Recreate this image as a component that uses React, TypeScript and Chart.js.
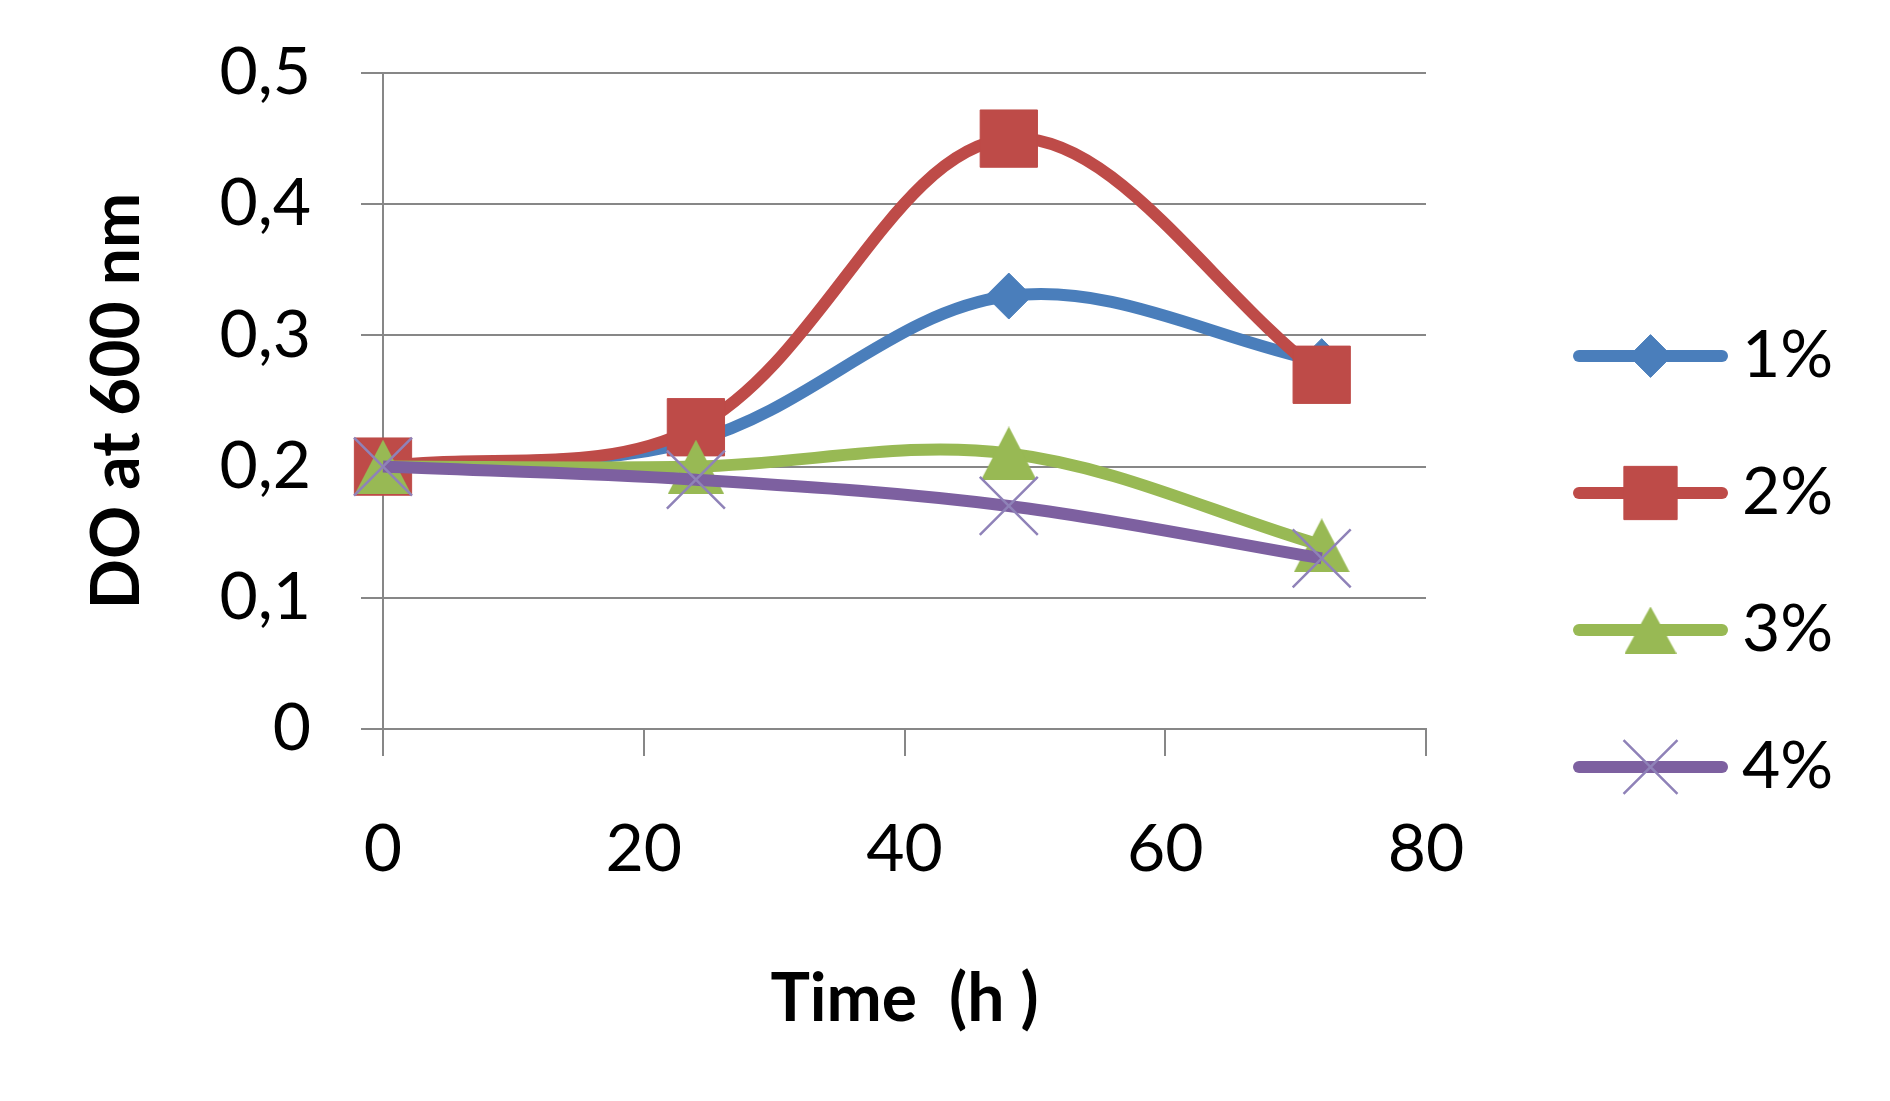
import React, { useEffect, useRef } from 'react';
import { Chart, registerables } from 'chart.js';
import { drawPoint } from 'chart.js/helpers';

Chart.register(...registerables);

// Optical density readings (DO at 600 nm) over incubation time
const hours = [0, 24, 48, 72];
const od1 = [0.2, 0.22, 0.33, 0.28];
const od2 = [0.2, 0.23, 0.45, 0.27];
const od3 = [0.2, 0.2, 0.21, 0.14];
const od4 = [0.2, 0.19, 0.17, 0.13];
const seriesLabels = ['1%', '2%', '3%', '4%'];

const xTicks = [0, 20, 40, 60, 80];
const yTicks = [0, 0.1, 0.2, 0.3, 0.4, 0.5];
const yTickLabels = ['0', '0,1', '0,2', '0,3', '0,4', '0,5'];

const FONT = 'Lato, "Open Sans", sans-serif';
const GRID = '#878787';

// Triangle marker centred on its bounding box
function triangleMarker(w: number, h: number, color: string): HTMLCanvasElement {
  const c = document.createElement('canvas');
  c.width = w;
  c.height = h;
  const g = c.getContext('2d')!;
  g.fillStyle = color;
  g.beginPath();
  g.moveTo(w / 2, 0);
  g.lineTo(w, h);
  g.lineTo(0, h);
  g.closePath();
  g.fill();
  return c;
}

const seriesStyles = [
  { color: '#4A7EBB', marker: 'rectRot', radius: 23, edge: '#4A7EBB', edgeWidth: 1 },
  { color: '#BE4B48', marker: 'rect', radius: 40.5, edge: '#BE4B48', edgeWidth: 1 },
  { color: '#98B954', marker: 'triangle', radius: 30, edge: '#98B954', edgeWidth: 1 },
  { color: '#7D60A0', marker: 'crossRot', radius: 41, edge: '#8f82b8', edgeWidth: 2.5 },
];

// Legend drawn to the right of the plot: a short line with the series marker, then the label
function makeLegend(legendMarkers: any[]) {
  return {
    id: 'sideLegend',
    afterDraw(chart: any) {
      const ctx = chart.ctx;
      const lineStart = 1579;
      const lineEnd = 1722;
      const textX = 1742;
      const firstY = 356;
      const step = 137;
      ctx.save();
      chart.data.datasets.forEach((ds: any, i: number) => {
        const y = firstY + i * step;
        ctx.strokeStyle = ds.borderColor;
        ctx.lineWidth = ds.borderWidth;
        ctx.lineCap = 'round';
        ctx.beginPath();
        ctx.moveTo(lineStart, y);
        ctx.lineTo(lineEnd, y);
        ctx.stroke();
        ctx.fillStyle = ds.pointBackgroundColor;
        ctx.strokeStyle = ds.pointBorderColor;
        ctx.lineWidth = ds.pointBorderWidth;
        ctx.lineCap = 'butt';
        drawPoint(
          ctx,
          { pointStyle: legendMarkers[i], radius: ds.pointRadius * 0.93, rotation: 0, borderWidth: ds.pointBorderWidth },
          (lineStart + lineEnd) / 2,
          y
        );
        ctx.fillStyle = '#000';
        ctx.font = `66px ${FONT}`;
        ctx.textAlign = 'left';
        ctx.textBaseline = 'middle';
        ctx.fillText(ds.label, textX, y);
      });
      ctx.restore();
    },
  };
}

export default function App() {
  const canvasRef = useRef<HTMLCanvasElement | null>(null);

  useEffect(() => {
    const canvas = canvasRef.current;
    if (!canvas) return;
    const values = [od1, od2, od3, od4];
    const markers: any[] = seriesStyles.map((s) => s.marker);
    const legendMarkers: any[] = seriesStyles.map((s) => s.marker);
    markers[2] = triangleMarker(56, 54, seriesStyles[2].color);
    legendMarkers[2] = triangleMarker(52, 47, seriesStyles[2].color);

    const datasets = values.map((vals, i) => {
      const s = seriesStyles[i];
      return {
        label: seriesLabels[i],
        data: hours.map((h, j) => ({ x: h, y: vals[j] })),
        borderColor: s.color,
        backgroundColor: s.color,
        borderWidth: 12,
        tension: 0.35,
        pointStyle: markers[i],
        pointRadius: s.radius,
        pointBackgroundColor: s.color,
        pointBorderColor: s.edge,
        pointBorderWidth: s.edgeWidth,
        order: values.length - i,
        clip: false as any,
      };
    });

    const chart = new Chart(canvas, {
      type: 'line',
      data: { datasets },
      plugins: [makeLegend(legendMarkers)],
      options: {
        responsive: false,
        animation: false,
        devicePixelRatio: 1,
        layout: { padding: { left: 0, top: 73, right: 464, bottom: 0 } },
        plugins: {
          legend: { display: false },
          tooltip: { enabled: false },
        },
        scales: {
          x: {
            type: 'linear',
            min: 0,
            max: 80,
            afterBuildTicks: (s: any) => {
              s.ticks = xTicks.map((v) => ({ value: v }));
            },
            afterFit: (s: any) => {
              s.height = 1101 - 729;
              s.paddingLeft = 0;
              s.paddingRight = 0;
            },
            ticks: {
              padding: 54,
              color: '#000',
              font: { family: FONT, size: 66 },
              callback: (v: any) => String(v),
            },
            grid: {
              drawOnChartArea: false,
              drawTicks: true,
              tickLength: 27,
              color: GRID,
              lineWidth: 2,
            },
            border: { display: true, color: GRID, width: 2 },
            title: {
              display: true,
              text: 'Time  (h )',
              color: '#000',
              font: { family: FONT, size: 66, weight: 'bold' },
              padding: { top: 0, bottom: 62 },
            },
          },
          y: {
            type: 'linear',
            min: 0,
            max: 0.5,
            afterBuildTicks: (s: any) => {
              s.ticks = yTicks.map((v) => ({ value: v }));
            },
            afterFit: (s: any) => {
              s.width = 383;
              s.paddingTop = 0;
              s.paddingBottom = 0;
            },
            ticks: {
              padding: 50,
              color: '#000',
              font: { family: FONT, size: 66 },
              callback: (_v: any, i: number) => yTickLabels[i],
            },
            grid: {
              drawOnChartArea: true,
              drawTicks: true,
              tickLength: 22,
              color: GRID,
              lineWidth: 2,
            },
            border: { display: true, color: GRID, width: 2 },
            title: {
              display: true,
              text: 'DO at 600 nm',
              color: '#000',
              font: { family: FONT, size: 66, weight: 'bold' },
              padding: { top: 78, bottom: 0 },
            },
          },
        },
      } as any,
    });
    return () => chart.destroy();
  }, []);

  return (
    <div style={{ position: 'fixed', left: 0, top: 0, width: 1890, height: 1101, background: '#fff' }}>
      <canvas ref={canvasRef} width={1890} height={1101} style={{ display: 'block', width: 1890, height: 1101 }} />
    </div>
  );
}
